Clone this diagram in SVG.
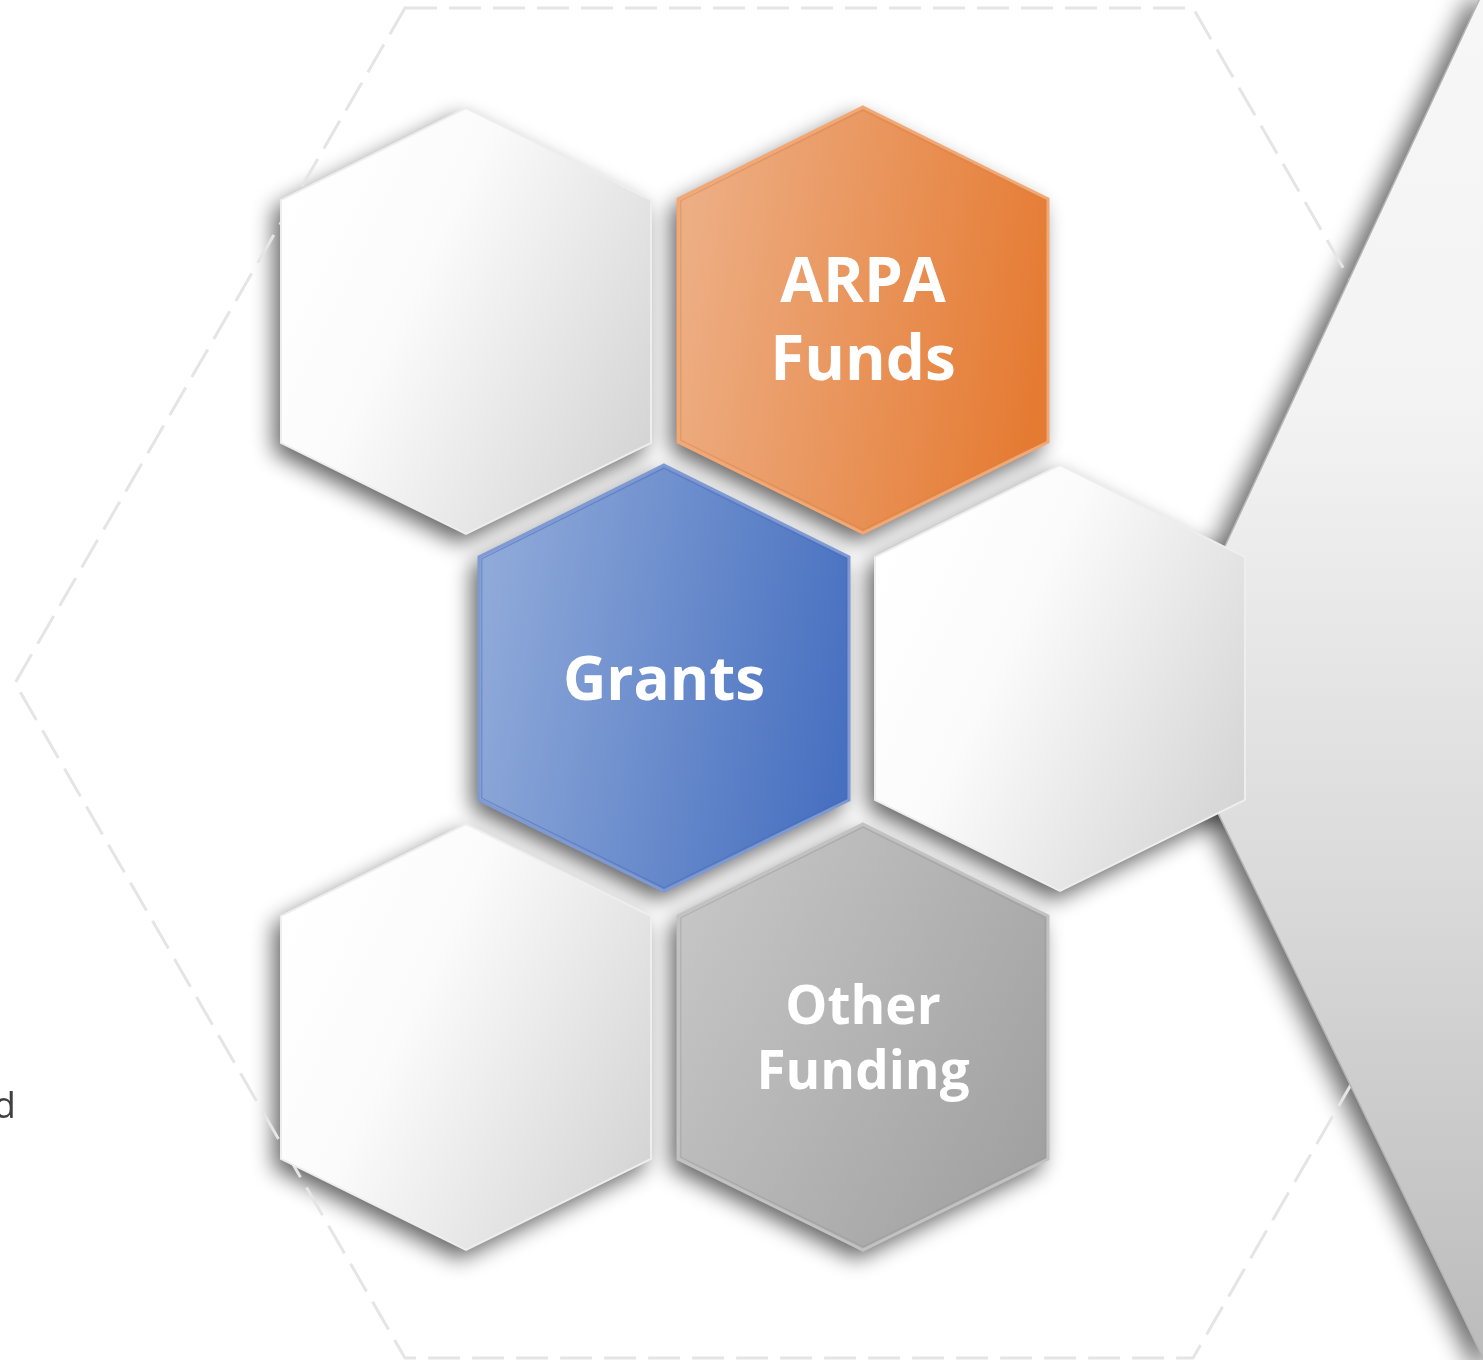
<svg xmlns="http://www.w3.org/2000/svg" xmlns:xlink="http://www.w3.org/1999/xlink" width="1483" height="1360" viewBox="0 0 1483 1360">
<style>
.lbl{font-family:"Open Sans","Liberation Sans",sans-serif;font-weight:700;fill:#ffffff;text-anchor:middle}
.big{font-size:62px}
.grt{font-size:60px}
.mid{font-size:53px}
.dash{fill:none;stroke:#e5e5e5;stroke-width:3;stroke-dasharray:32 12}
.whiteHex{fill:url(#gWhite);stroke:#eeeeee;stroke-width:2}
.inner{fill:none;stroke-width:1.2}
</style>
<defs>
<polygon id="hex" points="0,-213 185,-121 185,122 0,213 -185,122 -185,-121"/>
<filter id="shadow" x="-30%" y="-30%" width="160%" height="160%">
<feGaussianBlur in="SourceAlpha" stdDeviation="11"/>
<feOffset dx="-7" dy="9" result="b"/>
<feComponentTransfer><feFuncA type="linear" slope="0.62"/></feComponentTransfer>
</filter>
<filter id="triShadow" x="-50%" y="-10%" width="200%" height="120%">
<feGaussianBlur in="SourceAlpha" stdDeviation="12"/>
<feOffset dx="-12" dy="4"/>
<feComponentTransfer><feFuncA type="linear" slope="0.6"/></feComponentTransfer>
</filter>
<linearGradient id="gWhite" x1="0" y1="0.25" x2="1" y2="0.8">
<stop offset="0" stop-color="#ffffff"/>
<stop offset="0.35" stop-color="#fbfbfb"/>
<stop offset="1" stop-color="#d4d4d4"/>
</linearGradient>
<linearGradient id="gOrange" x1="0" y1="0.4" x2="1" y2="0.6">
<stop offset="0" stop-color="#edae84"/>
<stop offset="1" stop-color="#e57a31"/>
</linearGradient>
<linearGradient id="gBlue" x1="0" y1="0.4" x2="1" y2="0.6">
<stop offset="0" stop-color="#8fa9d9"/>
<stop offset="1" stop-color="#4770c0"/>
</linearGradient>
<linearGradient id="gGray" x1="0" y1="0.2" x2="1" y2="0.8">
<stop offset="0" stop-color="#c6c6c6"/>
<stop offset="1" stop-color="#a0a0a0"/>
</linearGradient>
<linearGradient id="gTri" x1="0" y1="0" x2="0" y2="1">
<stop offset="0" stop-color="#f7f7f7"/>
<stop offset="0.3" stop-color="#f3f3f3"/>
<stop offset="0.65" stop-color="#dadada"/>
<stop offset="1" stop-color="#bbbbbb"/>
</linearGradient>
</defs>

<rect width="1483" height="1360" fill="#ffffff"/>

<!-- shadows -->
<g id="shadows">
<polygon points="1481,-4 1158,690 1486,1364 1500,1364 1500,-4" fill="#000" filter="url(#triShadow)"/>
<g filter="url(#shadow)" fill="#000">
<use xlink:href="#hex" x="466" y="321"/>
<use xlink:href="#hex" x="863" y="320"/>
<use xlink:href="#hex" x="664" y="678"/>
<use xlink:href="#hex" x="1060" y="678"/>
<use xlink:href="#hex" x="466" y="1037"/>
<use xlink:href="#hex" x="863" y="1037"/>
</g>
</g>

<!-- dashed outline hexagon -->
<polygon id="outline" class="dash" points="405,8 1193,8 1583,683 1193,1358 405,1358 15,683"/>

<!-- right backdrop -->
<polygon id="backdrop" points="1481,-4 1158,690 1486,1364 1500,1364 1500,-4" fill="url(#gTri)" stroke="#b4b4b4" stroke-width="1.5"/>

<g id="hex-top-left">
<use xlink:href="#hex" x="466" y="321" class="whiteHex"/>
</g>

<g id="hex-arpa">
<use xlink:href="#hex" x="863" y="320" fill="url(#gOrange)" stroke="#f2a874" stroke-width="3"/>
<use xlink:href="#hex" x="863" y="320" transform="translate(863 320) scale(0.985) translate(-863 -320)" class="inner" stroke="#d8844a" stroke-opacity="0.5"/>
<text class="lbl big" x="863" y="302">ARPA</text>
<text class="lbl big" x="863" y="380">Funds</text>
</g>

<g id="hex-grants">
<use xlink:href="#hex" x="664" y="678" fill="url(#gBlue)" stroke="#7f9ad2" stroke-width="3"/>
<use xlink:href="#hex" x="664" y="678" transform="translate(664 678) scale(0.985) translate(-664 -678)" class="inner" stroke="#4a6db5" stroke-opacity="0.5"/>
<text class="lbl grt" x="664" y="700">Grants</text>
</g>

<g id="hex-right">
<use xlink:href="#hex" x="1060" y="678" class="whiteHex"/>
</g>

<g id="hex-bottom-left">
<use xlink:href="#hex" x="466" y="1037" class="whiteHex"/>
</g>

<g id="hex-other">
<use xlink:href="#hex" x="863" y="1037" fill="url(#gGray)" stroke="#c2c2c2" stroke-width="3"/>
<use xlink:href="#hex" x="863" y="1037" transform="translate(863 1037) scale(0.985) translate(-863 -1037)" class="inner" stroke="#999999" stroke-opacity="0.5"/>
<text class="lbl mid" x="863" y="1024">Other</text>
<text class="lbl mid" x="863" y="1089">Funding</text>
</g>

<g id="connectors"/>

<text x="16" y="1118" font-family="'Open Sans','Liberation Sans',sans-serif" font-size="37" fill="#404040" text-anchor="end">d</text>
</svg>
